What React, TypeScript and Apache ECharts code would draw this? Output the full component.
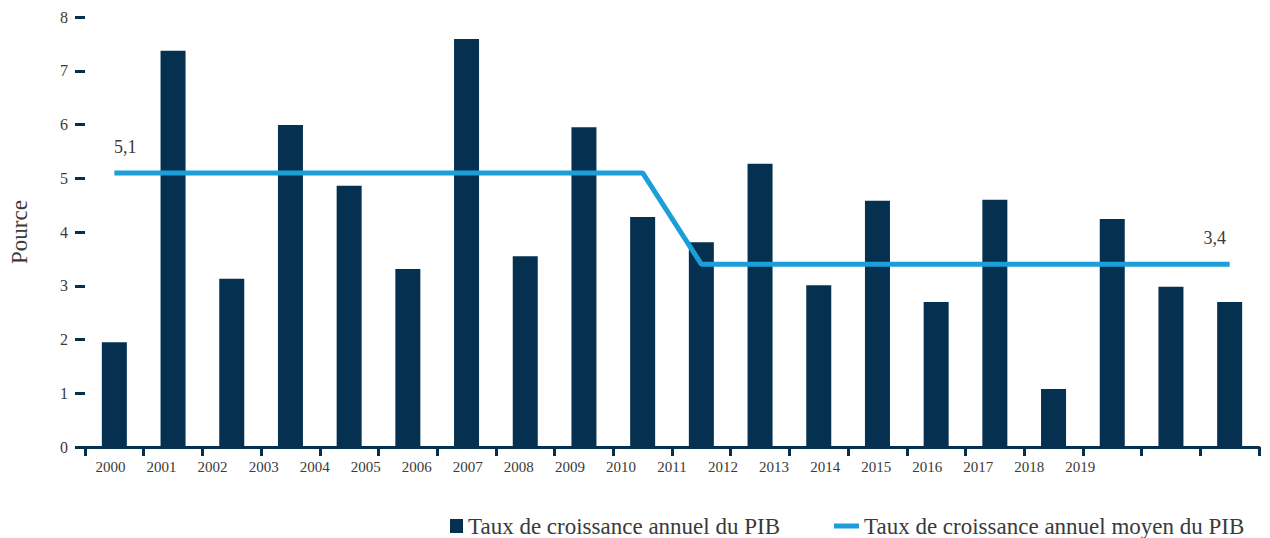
import React, { useEffect, useRef } from "react";
import * as echarts from "echarts";

const years = ["2000","2001","2002","2003","2004","2005","2006","2007","2008","2009","2010","2011","2012","2013","2014","2015","2016","2017","2018","2019"];
const labelSlots = [...years, "", "", ""];
const growth = [1.95, 7.37, 3.13, 5.99, 4.86, 3.31, 7.59, 3.55, 5.95, 4.28, 3.81, 5.27, 3.01, 4.58, 2.70, 4.60, 1.08, 4.24, 2.98, 2.70];
const average = [5.1, 5.1, 5.1, 5.1, 5.1, 5.1, 5.1, 5.1, 5.1, 5.1, 3.4, 3.4, 3.4, 3.4, 3.4, 3.4, 3.4, 3.4, 3.4, 3.4];
const barName = "Taux de croissance annuel du PIB";
const lineName = "Taux de croissance annuel moyen du PIB";
const yTicks = [0, 8, 1];

const NAVY = "#06304f";
const BLUE = "#1c9ed9";
const TEXT = "#3a3a3a";
const FONT = "Liberation Serif";

export default function App() {
  const ref = useRef<HTMLDivElement>(null);
  useEffect(() => {
    if (!ref.current) return;
    const chart = echarts.init(ref.current, null, { renderer: "svg" });
    const last = average.length - 1;
    const lineData = average.map((v, i) => {
      if (i === 0 || i === last) {
        return {
          value: v,
          label: {
            show: true,
            position: "top",
            distance: 17,
            offset: i === 0 ? [11, 0] : [-15, 0],
            formatter: String(v).replace(".", ","),
            color: TEXT,
            fontFamily: FONT,
            fontSize: 18,
          },
        };
      }
      return { value: v };
    });
    chart.setOption({
      animation: false,
      textStyle: { fontFamily: FONT },
      grid: { left: 83, right: 11, top: 17, bottom: 91, containLabel: false },
      legend: [
        {
          data: [{ name: barName, icon: "rect" }],
          left: 445,
          top: 509,
          itemWidth: 13,
          itemHeight: 14,
          textStyle: { color: TEXT, fontFamily: FONT, fontSize: 23, lineHeight: 24 },
        },
        {
          data: [{ name: lineName, icon: "rect" }],
          left: 829,
          top: 509,
          itemWidth: 25,
          itemHeight: 5,
          textStyle: { color: TEXT, fontFamily: FONT, fontSize: 23, lineHeight: 24 },
        },
      ],
      xAxis: [
        {
          type: "category",
          data: years,
          position: "bottom",
          axisLine: { show: true, lineStyle: { color: NAVY, width: 3 } },
          axisTick: { show: true, length: 9, lineStyle: { color: NAVY, width: 3 } },
          axisLabel: { show: false },
        },
        {
          type: "category",
          data: labelSlots,
          position: "bottom",
          axisLine: { show: false },
          axisTick: { show: false },
          axisLabel: { show: true, interval: 0, margin: 12, color: TEXT, fontFamily: FONT, fontSize: 15 },
        },
      ],
      yAxis: {
        type: "value",
        min: yTicks[0],
        max: yTicks[1],
        interval: yTicks[2],
        name: "Pource",
        nameLocation: "middle",
        nameRotate: 90,
        nameGap: 54,
        nameTextStyle: { color: TEXT, fontFamily: FONT, fontSize: 23 },
        axisLine: { show: false },
        axisTick: { show: true, length: 10, lineStyle: { color: NAVY, width: 3 } },
        axisLabel: { margin: 17, color: TEXT, fontFamily: FONT, fontSize: 16 },
        splitLine: { show: false },
      },
      series: [
        {
          name: barName,
          type: "bar",
          xAxisIndex: 0,
          data: growth,
          barWidth: 25,
          itemStyle: { color: NAVY },
          z: 2,
        },
        {
          name: lineName,
          type: "line",
          xAxisIndex: 0,
          data: lineData,
          symbol: "circle",
          symbolSize: 0,
          showSymbol: true,
          showAllSymbol: true,
          lineStyle: { color: BLUE, width: 5 },
          itemStyle: { color: BLUE },
          z: 3,
        },
      ],
    });
    return () => chart.dispose();
  }, []);
  return <div ref={ref} style={{ width: 1270, height: 538, position: "absolute", left: 0, top: 0 }} />;
}
